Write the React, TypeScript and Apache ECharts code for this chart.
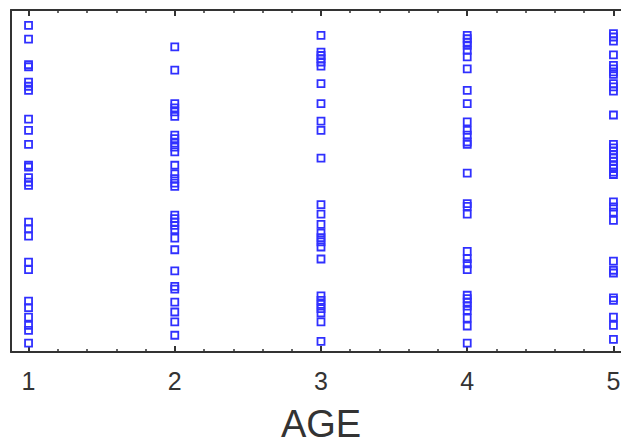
import React, { useEffect, useRef } from "react";
import * as echarts from "echarts";

const ageTicks = [1, 2, 3, 4, 5];
const minorTicks = [1.2, 1.4, 1.6, 1.8, 2.2, 2.4, 2.6, 2.8, 3.2, 3.4, 3.6, 3.8, 4.2, 4.4, 4.6, 4.8];

const age1 = [95.5, 91.5, 84.0, 83.4, 78.9, 77.7, 76.5, 68.1, 64.8, 60.7, 54.6, 54.1, 51.0, 49.7, 48.7, 38.0, 36.1, 33.9, 26.3, 24.1, 14.9, 13.0, 10.2, 7.8, 6.3, 2.6];
const age2 = [89.2, 82.4, 72.6, 71.4, 70.2, 68.9, 63.4, 62.4, 61.1, 59.9, 58.5, 54.6, 52.1, 50.7, 49.4, 48.4, 40.0, 39.0, 38.0, 37.0, 35.8, 33.3, 29.9, 23.7, 19.2, 18.4, 14.6, 11.7, 8.8, 4.9];
const age3 = [92.6, 87.7, 86.7, 85.8, 84.8, 83.6, 78.5, 72.6, 67.5, 64.8, 56.7, 43.1, 40.3, 37.3, 34.8, 33.4, 32.2, 30.7, 27.2, 16.4, 15.1, 13.9, 12.7, 11.4, 8.8, 3.1];
const age4 = [92.6, 91.6, 90.6, 89.7, 88.2, 86.3, 82.8, 76.5, 72.6, 67.3, 64.8, 63.4, 61.4, 60.7, 52.3, 43.4, 42.6, 40.3, 29.4, 27.3, 25.8, 24.1, 16.6, 15.6, 14.6, 13.4, 12.2, 9.9, 7.6, 2.6];
const age5 = [93.1, 92.1, 90.9, 86.9, 83.8, 82.8, 81.9, 81.2, 78.5, 77.5, 76.3, 69.3, 60.7, 59.7, 58.8, 57.8, 56.8, 55.8, 54.6, 53.6, 52.6, 51.9, 43.9, 42.4, 40.9, 38.5, 26.6, 23.9, 23.1, 15.8, 15.1, 10.2, 7.8, 3.7];

const groups = [age1, age2, age3, age4, age5];

const FONT = 'Arial, "Liberation Sans", sans-serif';
const AXIS = "#333333";
const BLUE = "#3030ff";

export default function App() {
  const ref = useRef<HTMLDivElement>(null);
  useEffect(() => {
    if (!ref.current) return;
    document.documentElement.style.overflow = "hidden";
    document.body.style.overflow = "hidden";
    document.body.style.margin = "0";
    const chart = echarts.init(ref.current, null, { renderer: "svg" });
    const xmin = 0.88;
    const xmax = 5.12;
    const base = {
      type: "value",
      min: xmin,
      max: xmax,
      gridIndex: 0,
      splitLine: { show: false },
    };
    chart.setOption({
      animation: false,
      backgroundColor: "#ffffff",
      grid: { left: 11, top: 10, right: -10, bottom: 92, outerBoundsMode: "none", containLabel: false },
      xAxis: [
        {
          ...base,
          position: "bottom",
          name: "AGE",
          nameLocation: "middle",
          nameGap: 56,
          nameTextStyle: { fontSize: 38, lineHeight: 32, color: AXIS, fontFamily: FONT },
          axisLine: { show: true, onZero: false, lineStyle: { color: AXIS, width: 2 } },
          axisTick: { show: true, inside: true, length: 6, customValues: ageTicks, lineStyle: { color: AXIS, width: 2 } },
          axisLabel: { show: true, customValues: ageTicks, fontSize: 25, color: AXIS, fontFamily: FONT, margin: 16 },
        },
        {
          ...base,
          position: "bottom",
          axisLine: { show: false },
          axisTick: { show: true, inside: true, length: 3, customValues: minorTicks, lineStyle: { color: AXIS, width: 1.5 } },
          axisLabel: { show: false },
        },
        {
          ...base,
          position: "top",
          axisLine: { show: true, onZero: false, lineStyle: { color: AXIS, width: 2 } },
          axisTick: { show: true, inside: true, length: 6, customValues: ageTicks, lineStyle: { color: AXIS, width: 2 } },
          axisLabel: { show: false },
        },
        {
          ...base,
          position: "top",
          axisLine: { show: false },
          axisTick: { show: true, inside: true, length: 3, customValues: minorTicks, lineStyle: { color: AXIS, width: 1.5 } },
          axisLabel: { show: false },
        },
      ],
      yAxis: {
        type: "value",
        min: 0,
        max: 100,
        axisLine: { show: true, onZero: false, lineStyle: { color: AXIS, width: 2 } },
        axisTick: { show: false },
        axisLabel: { show: false },
        splitLine: { show: false },
      },
      series: groups.map((vals, i) => ({
        type: "scatter",
        xAxisIndex: 0,
        yAxisIndex: 0,
        symbol: "rect",
        symbolSize: 7,
        itemStyle: { color: "rgba(0,0,0,0)", borderColor: BLUE, borderWidth: 1.8, opacity: 1 },
        data: vals.map((v) => [ageTicks[i], v]),
      })),
    });
    return () => chart.dispose();
  }, []);
  return <div ref={ref} style={{ width: 621, height: 444, overflow: "hidden" }} />;
}
